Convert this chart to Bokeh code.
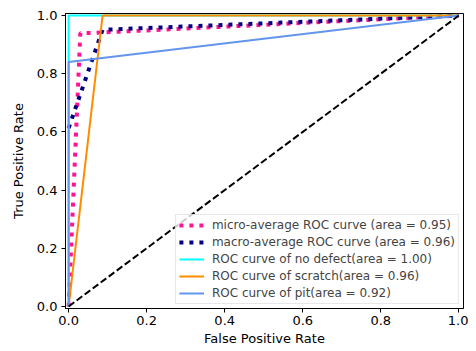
from bokeh.plotting import figure
from bokeh.models import Legend, LegendItem, FixedTicker, Range1d, CustomJSTickFormatter
from bokeh.embed import file_html
from bokeh.resources import INLINE

# data
micro_fpr = [0.0, 0.03, 0.06, 1.0]
micro_tpr = [0.0, 0.94, 0.94, 1.0]
macro_fpr = [0.0, 0.087, 1.0]
macro_tpr = [0.613, 0.951, 1.0]
nodef_fpr = [0.0, 0.0, 1.0]
nodef_tpr = [0.0, 1.0, 1.0]
scratch_fpr = [0.0, 0.087, 1.0]
scratch_tpr = [0.0, 1.0, 1.0]
pit_fpr = [0.0, 0.0, 1.0]
pit_tpr = [0.0, 0.84, 1.0]
diag = [0.0, 1.0]
ticks = [0.0, 0.2, 0.4, 0.6, 0.8, 1.0]
labels = [
    "micro-average ROC curve (area = 0.95)",
    "macro-average ROC curve (area = 0.96)",
    "ROC curve of no defect(area = 1.00)",
    "ROC curve of scratch(area = 0.96)",
    "ROC curve of pit(area = 0.92)",
]

p = figure(width=468, height=351, output_backend="svg", toolbar_location=None,
           x_range=Range1d(-0.008, 1.012), y_range=Range1d(-0.007, 1.007),
           min_border_left=65, min_border_right=5, min_border_top=13, min_border_bottom=43)

FONT = "DejaVu Sans"
r1 = p.line(micro_fpr, micro_tpr, line_color="#FF1493", line_width=4, line_dash="4 6", line_cap="butt")
r2 = p.line(macro_fpr, macro_tpr, line_color="#000080", line_width=4, line_dash="4 6", line_cap="butt")
r3 = p.line(nodef_fpr, nodef_tpr, line_color="#00FFFF", line_width=2)
r4 = p.line(scratch_fpr, scratch_tpr, line_color="#FF8C00", line_width=2)
r5 = p.line(pit_fpr, pit_tpr, line_color="#6495ED", line_width=2)
p.line(diag, diag, line_color="black", line_width=2, line_dash="7 3")

legend = Legend(items=[LegendItem(label=l, renderers=[r]) for l, r in zip(labels, [r1, r2, r3, r4, r5])],
                location="bottom_right")
legend.label_text_font = FONT
legend.label_text_font_size = "12px"
legend.label_height = 14
legend.glyph_height = 14
legend.glyph_width = 25
legend.spacing = 3
legend.padding = 3
legend.margin = 4
legend.border_line_color = "#d0d0d0"
legend.border_line_width = 1
legend.background_fill_alpha = 0.8
legend.label_standoff = 8
p.add_layout(legend)

p.grid.visible = False
p.outline_line_color = "black"
p.outline_line_width = 1
for ax in (p.xaxis, p.yaxis):
    ax.ticker = FixedTicker(ticks=ticks)
    ax.minor_tick_line_color = None
    ax.major_tick_out = 4
    ax.major_tick_in = 0
    ax.axis_line_color = "black"
    ax.major_label_text_font = FONT
    ax.major_label_text_font_size = "13px"
    ax.major_label_text_color = "black"
    ax.axis_label_text_font = FONT
    ax.axis_label_text_font_size = "13px"
    ax.axis_label_text_font_style = "normal"
    ax.axis_label_text_color = "black"
p.xaxis.formatter = CustomJSTickFormatter(code="return tick.toFixed(1);")
p.yaxis.formatter = CustomJSTickFormatter(code="return tick.toFixed(1);")
p.xaxis.axis_label = "False Positive Rate"
p.yaxis.axis_label = "True Positive Rate"
p.xaxis.major_label_standoff = 3
p.yaxis.major_label_standoff = 4
p.xaxis.axis_label_standoff = 3
p.yaxis.axis_label_standoff = 8

open("out.html", "w").write(file_html(p, INLINE))
